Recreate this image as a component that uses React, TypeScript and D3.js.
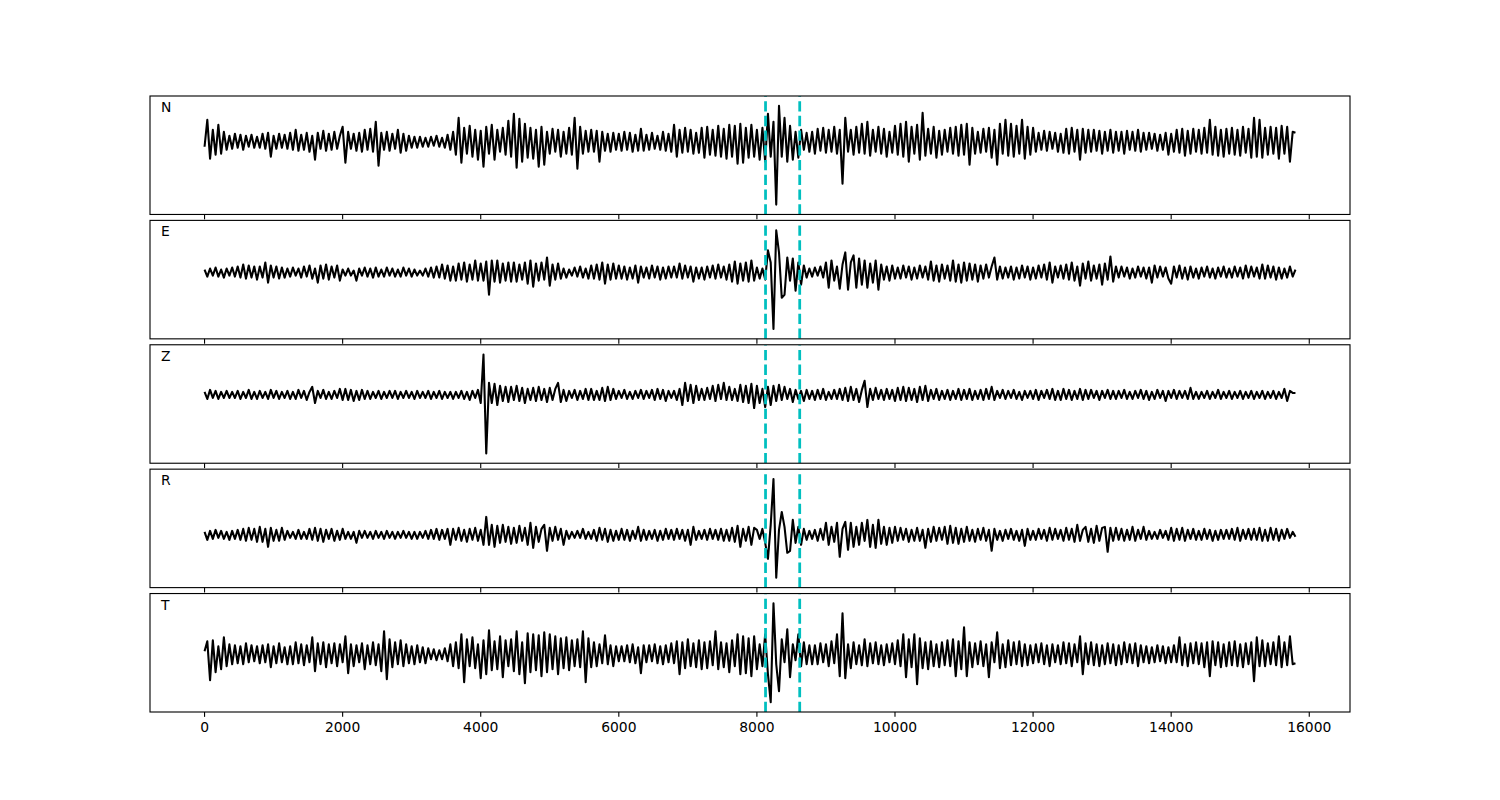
import React from "react";
import * as d3 from "d3";

// sample interval of the traces (time units along x)
const sampleStep = 40;
const traceLabels = ["N", "E", "Z", "R", "T"];
const pickTimes = [8125, 8620];
const xTicks = [0, 2000, 4000, 6000, 8000, 10000, 12000, 14000, 16000];

const traceN = [
  -5, 22, -17, 12, -13, 17, -12, 10, -8, 6,
  -7, 8, -6, 7, -8, 6, -5, 7, -6, 5,
  -6, 8, -7, 9, -15, 6, -7, 8, -6, 7,
  -7, 9, -8, 12, -9, 7, -8, 9, -10, 6,
  -18, 9, -7, 11, -9, 8, -8, 10, -7, 6,
  15, -21, 10, -7, 8, -9, 9, -10, 12, -8,
  13, -10, 20, -24, 9, -8, 10, -9, 8, -7,
  12, -11, 8, -9, 6, -6, 5, -6, 5, -5,
  4, -5, 5, -4, 6, -5, 4, -6, 7, -8,
  10, -13, 24, -21, 14, -12, 16, -15, 12, -18,
  11, -25, 15, -12, 17, -18, 12, -10, 14, -13,
  21, -15, 28, -26, 23, -20, 18, -16, 14, -17,
  12, -25, 15, -23, 10, -12, 13, -10, 12, -15,
  10, -12, 14, -13, 24, -27, 15, -12, 11, -10,
  12, -10, 11, -20, 10, -9, 8, -10, 9, -8,
  8, -9, 10, -8, 9, -10, 7, -9, 13, -9,
  7, -8, 9, -7, 6, -8, 10, -9, 8, -10,
  17, -15, 12, -11, 14, -10, 12, -12, 9, -11,
  14, -16, 15, -13, 12, -14, 16, -15, 13, -17,
  17, -15, 16, -22, 18, -21, 14, -16, 17, -15,
  12, -18, 14, -20, 28, -15, 20, -63, 36, -15,
  24, -20, 16, -18, 10, -16, 12, -8, 9, -10,
  10, -12, 13, -9, 14, -11, 12, -10, 15, -12,
  12, -42, 24, -10, 12, -13, 15, -11, 18, -12,
  20, -14, 12, -10, 15, -12, 13, -15, 10, -11,
  16, -13, 18, -15, 20, -20, 15, -12, 17, -18,
  29, -14, 13, -12, 15, -16, 11, -13, 12, -10,
  14, -12, 15, -14, 17, -13, 18, -23, 14, -12,
  10, -11, 13, -10, 14, -16, 12, -23, 18, -12,
  22, -14, 18, -15, 16, -12, 22, -17, 15, -13,
  14, -10, 9, -8, 11, -9, 10, -7, 9, -10,
  8, -11, 13, -12, 14, -10, 12, -18, 13, -11,
  12, -10, 12, -9, 11, -12, 10, -9, 12, -11,
  10, -9, 10, -12, 11, -8, 10, -9, 12, -10,
  9, -8, 9, -7, 8, -9, 7, -8, 9, -13,
  8, -10, 12, -11, 13, -14, 11, -12, 13, -10,
  12, -12, 14, -11, 22, -13, 15, -14, 12, -15,
  13, -12, 14, -13, 12, -14, 15, -11, 13, -16,
  24, -15, 22, -16, 14, -13, 15, -12, 14, -17,
  16, -12, 15, -20, 10, 9,
];

const traceE = [
  3, -4, 4, -3, 5, -4, 3, -5, 4, -3,
  5, -4, 6, -5, 8, -6, 7, -5, 6, -7,
  6, -5, 10, -10, 7, -5, 6, -6, 5, -5,
  4, -4, 5, -3, 4, -5, 6, -4, 7, -6,
  4, -10, 7, -6, 8, -7, 6, -5, 7, -8,
  3, -3, 4, -3, 2, -8, 4, -3, 5, -4,
  4, -5, 5, -4, 3, -4, 5, -3, 4, -4,
  3, -4, 5, -3, 4, -4, 3, -3, 2, -3,
  4, -4, 5, -5, 6, -5, 8, -6, 7, -8,
  6, -8, 9, -7, 10, -9, 8, -7, 12, -8,
  9, -8, 11, -22, 12, -9, 12, -10, 9, -8,
  10, -9, 10, -9, 8, -7, 10, -11, 12, -14,
  9, -8, 10, -7, 15, -13, 8, -7, 9, -6,
  4, -5, 3, -3, 5, -4, 6, -5, 4, -6,
  7, -6, 8, -7, 10, -11, 8, -7, 9, -6,
  7, -6, 6, -7, 5, -6, 7, -10, 6, -5,
  5, -6, 7, -5, 6, -7, 5, -6, 6, -5,
  6, -5, 9, -6, 7, -5, 6, -9, 5, -6,
  5, -7, 6, -5, 7, -6, 8, -5, 6, -7,
  8, -9, 11, -11, 9, -8, 10, -9, 12, -8,
  5, -6, 4, -7, 22, 10, -56, 42, 20, -25,
  -22, 15, -8, 14, -18, 10, -12, 7, -5, 4,
  -4, 5, -3, 6, -5, 10, -15, 12, -8, 6,
  -16, 8, 20, -17, 10, 17, -15, 14, -12, 12,
  -15, 9, -10, 12, -17, 8, -7, 6, -8, 7,
  -6, 5, -6, 7, -5, 6, -7, 5, -6, 7,
  -5, 6, -7, 11, -8, 7, -9, 8, -6, 7,
  -8, 12, -9, 8, -10, 10, -8, 9, -7, 8,
  -9, 7, -6, 8, -5, 6, 15, -7, 6, -6,
  5, -5, 6, -7, 5, -6, 7, -5, 6, -7,
  5, -6, 7, -5, 8, -7, 10, -10, 6, -5,
  7, -6, 8, -7, 10, -8, 6, -13, 9, -6,
  11, -8, 7, -6, 8, -12, 9, -7, 16, -9,
  6, -5, 6, -4, 5, -6, 4, -5, 6, -4,
  5, -6, 5, -10, 7, -5, 6, -4, 5, -6,
  -11, 6, -5, 7, -6, 5, -7, 6, -5, 4,
  -6, 5, -4, 6, -5, 4, -6, 5, -4, 6,
  -5, 4, -5, 6, -4, 5, -6, 7, -5, 6,
  -4, 5, -6, 8, -6, 7, -5, 6, -7, 5,
  -6, 4, -5, 6, -4, 3,
];

const traceZ = [
  3, -4, 5, -3, 4, -4, 3, -3, 4, -3,
  3, -3, 4, -4, 3, -3, 5, -4, 3, -4,
  4, -3, 3, -4, 5, -3, 4, -4, 3, -3,
  4, -4, 3, -4, 5, -3, 4, -5, 3, 8,
  -8, 4, -3, 5, -4, 3, -4, 4, -3, 6,
  -5, 6, -5, 5, -6, 4, -5, 5, -4, 4,
  -4, 3, -3, 4, -4, 3, -3, 4, -3, 4,
  -4, 3, -3, 4, -3, 3, -4, 4, -3, 3,
  -3, 4, -4, 3, -3, 4, -4, 3, -3, 3,
  -4, 3, -3, 4, -4, 3, -5, 4, -3, 5,
  -8, 40, -58, 12, -8, 11, -10, 9, -6, 8,
  -7, 8, -5, 9, -6, 7, -8, 6, -5, 7,
  -6, 8, -5, 6, -7, 7, -5, 6, 12, -7,
  5, -6, 4, -3, 5, -5, 4, -4, 6, -5,
  6, -5, 4, -5, 7, -6, 8, -5, 6, -4,
  4, -3, 5, -4, 3, -4, 4, -3, 5, -4,
  4, -3, 5, -5, 6, -4, 5, -6, 4, -3,
  4, -5, 6, -10, 12, -6, 10, -8, 9, -5,
  6, -5, 7, -4, 9, -6, 10, -4, 12, -5,
  8, -5, 6, -6, 10, -7, 9, -8, 11, -13,
  9, -8, 6, -12, 8, -10, 9, -6, 10, -5,
  8, -4, 6, -7, 5, -4, 4, -6, 5, -4,
  4, -5, 5, -4, 6, -5, 3, -4, 5, -4,
  6, -5, 7, -6, 8, -5, 6, -7, 5, 14,
  -12, 6, -5, 7, -4, 5, -5, 6, -4, 5,
  -6, 7, -5, 8, -6, 7, -5, 6, -7, 8,
  -5, 9, -6, 5, -4, 6, -5, 4, -4, 5,
  -5, 4, -4, 6, -5, 5, -4, 6, -5, 4,
  -4, 5, -5, 6, -4, 8, -5, 4, -3, 5,
  -4, 4, -3, 5, -4, 3, -5, 4, -3, 4,
  -4, 5, -5, 4, -3, 5, -4, 6, -5, 4,
  -5, 6, -4, 5, -5, 4, -4, 6, -5, 5,
  -4, 5, -3, 4, -5, 4, -3, 5, -4, 4,
  -4, 4, -3, 5, -4, 3, -4, 4, -3, 5,
  -4, 4, -5, 3, -4, 5, -3, 4, -6, 4,
  -3, 5, -4, 4, -3, 4, -4, 7, -4, 3,
  -4, 3, -3, 4, -4, 3, -3, 5, -4, 3,
  -3, 4, -4, 3, -3, 4, -4, 3, -3, 4,
  -4, 3, -3, 4, -4, 3, -3, 4, -4, 3,
  -3, 6, -6, 4, 2, 2,
];

const traceR = [
  3, -5, 4, -4, 5, -3, 4, -4, 3, -5,
  4, -4, 5, -5, 6, -6, 7, -5, 6, -7,
  8, -7, 6, -12, 7, -6, 5, -6, 7, -5,
  4, -3, 3, -4, 5, -4, 3, -4, 6, -5,
  7, -6, 6, -7, 5, -4, 6, -6, 4, -5,
  6, -4, 3, -4, 3, -8, 4, -3, 4, -3,
  3, -4, 4, -3, 3, -4, 4, -3, 3, -4,
  3, -3, 4, -3, 3, -4, 3, -4, 3, -3,
  4, -4, 5, -4, 6, -5, 5, -4, 6, -10,
  6, -5, 7, -6, 5, -7, 6, -5, 7, -6,
  5, -10, 18, -10, 10, -12, 9, -8, 10, -7,
  8, -9, 7, -8, 9, -6, 7, -10, 12, -13,
  8, -7, 6, 10, -16, 7, -6, 8, -5, 6,
  -10, 4, -4, 3, -3, 4, -3, 6, -4, 3,
  -4, 5, -6, 7, -5, 6, -7, 5, -6, 4,
  -5, 6, -5, 5, -6, 4, -4, 8, -6, 5,
  -5, 4, -4, 5, -6, 4, -5, 6, -4, 5,
  -5, 6, -4, 5, -6, 5, -10, 8, -5, 4,
  -4, 5, -5, 6, -4, 5, -5, 6, -6, 5,
  -6, 7, -7, 9, -12, 6, -6, 8, -10, 7,
  5, -4, 6, -8, -24, 10, 56, -43, 5, 23,
  8, -18, -16, 15, -8, 8, -10, 6, -5, 4,
  -4, 5, -6, 6, -5, 12, -10, 8, -7, 12,
  -22, 6, 13, -15, 12, -12, 8, -10, 12, -6,
  15, -12, 10, -13, 15, -9, 8, -10, 7, -8,
  8, -6, 7, -5, 6, -7, 5, -6, 7, -6,
  5, -13, 6, -7, 8, -6, 7, -5, 8, -9,
  9, -8, 7, -9, 6, -7, 8, -6, 5, -7,
  6, -5, 7, -6, 5, -16, 6, -5, 4, -6,
  5, -4, 6, -5, 4, -6, 5, -11, 6, -5,
  4, -5, 6, -4, 5, -6, 7, -5, 6, -4,
  5, -6, 7, -5, 6, -7, 10, -6, 5, 8,
  -7, 6, -8, 9, -6, 7, 8, -17, 7, -6,
  7, -5, 6, -6, 5, -5, 8, -6, 5, -4,
  8, -5, 4, -4, 3, -4, 5, -3, 4, -5,
  7, -6, 6, -5, 7, -6, 5, -4, 6, -5,
  4, -5, 6, -4, 5, -6, 4, -5, 5, -4,
  5, -4, 6, -5, 7, -6, 5, -4, 6, -5,
  6, -5, 7, -6, 5, -6, 7, -5, 6, -6,
  5, -4, 6, -3, 3, -2,
];

const traceT = [
  3, 13, -26, 14, -18, 8, -15, 17, -12, 10,
  -10, 9, -9, 8, -10, 11, -8, 9, -7, 8,
  -9, 9, -8, 10, -13, 8, -9, 11, -8, 7,
  -10, 8, -10, 12, -9, 10, -11, 9, -8, 17,
  -17, 11, -10, 12, -13, 10, -9, 11, -12, 10,
  -8, 18, -19, 10, -12, 9, -8, 11, -15, 9,
  -10, 12, -11, 10, -17, 23, -25, 15, -13, 12,
  -10, 14, -12, 10, -9, 8, -10, 9, -8, 7,
  -9, 6, -5, 5, -6, 4, -5, 6, -7, 10,
  -12, 12, -14, 20, -28, 15, -12, 17, -14, 10,
  -24, 14, -20, 24, -16, 13, -15, 18, -23, 14,
  -12, 15, -17, 23, -20, 12, -29, 21, -18, 20,
  -16, 19, -22, 22, -18, 20, -15, 18, -20, 16,
  -14, 17, -16, 14, -12, 15, -13, 23, -28, 16,
  -13, 12, -12, 10, -9, 19, -10, 9, -12, 8,
  -7, 8, -7, 9, -8, 10, -9, 7, -19, 9,
  -8, 9, -7, 10, -9, 8, -10, 9, -8, 11,
  -9, 13, -20, 12, -14, 15, -12, 11, -13, 14,
  -15, 12, -14, 13, -11, 23, -15, 12, -13, 11,
  -18, 14, -12, 20, -20, 18, -19, 16, -22, 18,
  -15, 10, -12, 20, -20, -48, 51, -10, -37, 15,
  -8, 25, -23, 10, -6, 20, -12, 12, -10, 9,
  -10, 9, -10, 11, -8, 10, -12, 13, -9, 20,
  -22, 41, -24, 10, -14, 12, -10, 9, -11, 15,
  -12, 11, -9, 12, -10, 9, -11, 10, -8, 11,
  -10, 14, -12, 20, -23, 15, -13, 20, -30, 16,
  -14, 12, -15, 13, -12, 10, -13, 12, -11, 14,
  -12, 15, -22, 13, -15, 27, -22, 12, -13, 11,
  -10, 13, -12, 10, -23, 12, -8, 22, -14, 10,
  -13, 14, -11, 12, -10, 13, -12, 10, -11, 9,
  -9, 10, -8, 11, -10, 9, -12, 10, -8, 9,
  -10, 12, -9, 11, -12, 10, -8, 18, -20, 11,
  -10, 12, -11, 10, -12, 9, -10, 11, -9, 10,
  -11, 9, -10, 12, -8, 10, -9, 11, -12, 9,
  -8, 8, -9, 7, -8, 9, -7, 8, -9, 7,
  -8, 9, -8, 17, -11, 10, -12, 11, -9, 12,
  -10, 11, -13, 12, -22, 13, -11, 12, -13, 10,
  -12, 12, -11, 13, -12, 10, -13, 11, -10, 12,
  -27, 17, -12, 14, -12, 11, -10, 12, -11, 18,
  -13, 12, -11, 18, -10, -9,
];

const traces = [traceN, traceE, traceZ, traceR, traceT];

const W = 1500;
const H = 800;
const PT = 100 / 72;
const figLeft = 0.1 * W;
const figRight = 0.9 * W;
const figTop = (1 - 0.88) * H;
const figBottom = (1 - 0.11) * H;
const hspace = 0.05;
const nPanels = traces.length;
const panelH = (figBottom - figTop) / (nPanels + hspace * (nPanels - 1));
const gap = panelH * hspace;
const FONT = "'DejaVu Sans', sans-serif";
const fontPx = 10 * PT;

export default function App() {
  const allTimes = d3.range(traceN.length).map((i) => i * sampleStep);
  const [tMin, tMax] = d3.extent(allTimes) as [number, number];
  const tPad = (tMax - tMin) * 0.05;
  const x = d3.scaleLinear().domain([tMin - tPad, tMax + tPad]).range([figLeft, figRight]);

  const panels = traces.map((vals, k) => {
    const top = figTop + k * (panelH + gap);
    const bottom = top + panelH;
    const [mn, mx] = d3.extent(vals) as [number, number];
    const pad = (mx - mn) * 0.1;
    const y = d3.scaleLinear().domain([mn - pad, mx + pad]).range([bottom, top]);
    const line = d3
      .line<number>()
      .x((_, i) => x(i * sampleStep))
      .y((v) => y(v));
    return { top, bottom, y, path: line(vals) || "", label: traceLabels[k] };
  });

  const tickLen = 3.5 * PT;
  const axisW = 0.8 * PT;

  return (
    <svg
      width={W}
      height={H}
      style={{ position: "absolute", left: 0, top: 0, background: "#fff" }}
      fontFamily={FONT}
    >
      <rect x={0} y={0} width={W} height={H} fill="#fff" />
      {panels.map((p, k) => (
        <g key={k}>
          <defs>
            <clipPath id={`clip${k}`}>
              <rect x={figLeft} y={p.top} width={figRight - figLeft} height={p.bottom - p.top} />
            </clipPath>
          </defs>
          <g clipPath={`url(#clip${k})`}>
            <path
              d={p.path}
              fill="none"
              stroke="#000"
              strokeWidth={1.5 * PT}
              strokeLinejoin="round"
            />
            {pickTimes.map((t, j) => (
              <line
                key={j}
                x1={x(t)}
                x2={x(t)}
                y1={p.bottom}
                y2={p.top}
                stroke="#00bfbf"
                strokeWidth={2 * PT}
                strokeDasharray={`${7.4 * PT} ${3.2 * PT}`}
              />
            ))}
          </g>
          <rect
            x={figLeft}
            y={p.top}
            width={figRight - figLeft}
            height={p.bottom - p.top}
            fill="none"
            stroke="#000"
            strokeWidth={axisW}
          />
          {xTicks.map((t) => (
            <line
              key={t}
              x1={x(t)}
              x2={x(t)}
              y1={p.bottom}
              y2={p.bottom + tickLen}
              stroke="#000"
              strokeWidth={axisW}
            />
          ))}
          <text x={figLeft + 11} y={p.top + 16} fontSize={fontPx} fill="#000">
            {p.label}
          </text>
          {k === nPanels - 1 &&
            xTicks.map((t) => (
              <text
                key={t}
                x={x(t)}
                y={p.bottom + tickLen + 3.5 * PT + 10.5}
                fontSize={fontPx}
                textAnchor="middle"
                fill="#000"
              >
                {t}
              </text>
            ))}
        </g>
      ))}
    </svg>
  );
}
